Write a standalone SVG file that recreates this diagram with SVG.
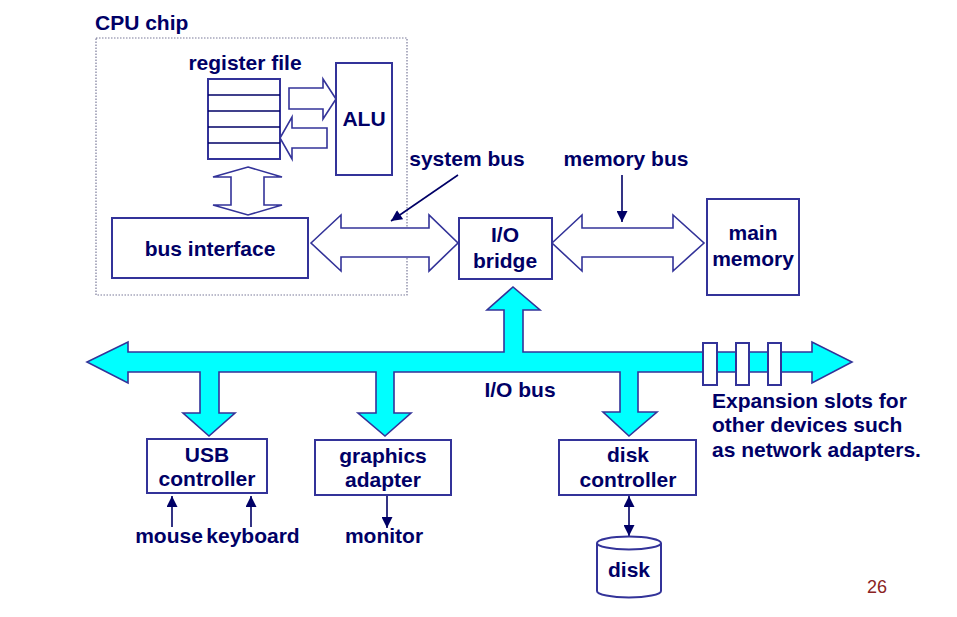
<svg xmlns="http://www.w3.org/2000/svg" width="957" height="617" viewBox="0 0 957 617">
<defs>
<style>
.t{font-family:"Liberation Sans",Arial,sans-serif;font-weight:bold;font-size:21px;fill:#000066;text-anchor:middle}
.ts{font-family:"Liberation Sans",Arial,sans-serif;font-weight:bold;font-size:21px;fill:#000066}
.box{fill:#ffffff;stroke:#333399;stroke-width:2}
.hol{fill:#ffffff;stroke:#333399;stroke-width:1.6}
.cy{fill:#00ffff;stroke:#333399;stroke-width:1.6}
.ln{stroke:#000066;stroke-width:1.6;fill:none}
</style>
<marker id="ah" viewBox="0 0 10 10" refX="10" refY="5" markerWidth="12" markerHeight="11" markerUnits="userSpaceOnUse" orient="auto-start-reverse">
<path d="M0,0 L10,5 L0,10 Z" fill="#000066"/>
</marker>
</defs>
<rect width="957" height="617" fill="#ffffff"/>

<g id="cpu-chip">
<rect x="96" y="38" width="311" height="257" fill="none" stroke="#7a7a99" stroke-width="1.2" stroke-dasharray="1.5,1.5"/>
<text class="ts" x="95" y="30">CPU chip</text>
</g>

<g id="connectors">
<polygon class="hol" points="289,88 323,88 323,79 336,99 323,119 323,109 289,109"/>
<polygon class="hol" points="327,128 292,128 292,117 280,138 292,159 292,148 327,148"/>
<polygon class="hol" points="248,167 282,177 264,177 264,205 282,205 248,215 213,205 231,205 231,177 213,177"/>
<polygon class="hol" points="311,243 341,215 341,228 429,228 429,215 458,243 429,271 429,257 341,257 341,271"/>
<polygon class="hol" points="552,243 582,215 582,228 673,228 673,215 704,243 673,271 673,257 582,257 582,271"/>
<polygon class="cy" points="128,352 504,352 504,310 487,310 513,287 540,310 523,310 523,352 812,352 812,342 852,362 812,383 812,372 638,372 638,412 657,412 629,436 603,412 620,412 620,372 394,372 394,413 411,413 385,436 358,413 376,413 376,372 219,372 219,413 235,413 209,436 183,413 200,413 200,372 128,372 128,383 87,362 128,342"/>
<line class="ln" x1="458" y1="175" x2="391" y2="221" marker-end="url(#ah)"/>
<line class="ln" x1="622" y1="175" x2="622" y2="222" marker-end="url(#ah)"/>
<line class="ln" x1="172" y1="527" x2="172" y2="496" marker-end="url(#ah)"/>
<line class="ln" x1="251" y1="527" x2="251" y2="496" marker-end="url(#ah)"/>
<line class="ln" x1="387" y1="496" x2="387" y2="528" marker-end="url(#ah)"/>
<line class="ln" x1="629" y1="496" x2="629" y2="536" marker-start="url(#ah)" marker-end="url(#ah)"/>
<text class="t" x="520" y="397">I/O bus</text>
<text class="t" x="467" y="166">system bus</text>
<text class="t" x="626" y="166">memory bus</text>
</g>

<g id="register-file">
<text class="t" x="245" y="70">register file</text>
<rect class="box" x="208" y="79" width="72" height="80"/>
<line class="ln" x1="208" y1="95" x2="280" y2="95"/>
<line class="ln" x1="208" y1="111" x2="280" y2="111"/>
<line class="ln" x1="208" y1="127" x2="280" y2="127"/>
<line class="ln" x1="208" y1="143" x2="280" y2="143"/>
</g>

<g id="alu">
<rect class="box" x="336" y="63" width="56" height="112"/>
<text class="t" x="364" y="126">ALU</text>
</g>

<g id="bus-interface">
<rect class="box" x="112" y="218" width="196" height="60"/>
<text class="t" x="210" y="256">bus interface</text>
</g>

<g id="io-bridge">
<rect class="box" x="459" y="218" width="93" height="61"/>
<text class="t" x="505" y="242">I/O</text>
<text class="t" x="505" y="268">bridge</text>
</g>

<g id="main-memory">
<rect class="box" x="707" y="199" width="92" height="96"/>
<text class="t" x="753" y="240">main</text>
<text class="t" x="753" y="266">memory</text>
</g>

<g id="usb-controller">
<rect class="box" x="147" y="439" width="120" height="54"/>
<text class="t" x="207" y="462">USB</text>
<text class="t" x="207" y="486">controller</text>
</g>

<g id="graphics-adapter">
<rect class="box" x="315" y="440" width="136" height="55"/>
<text class="t" x="383" y="463">graphics</text>
<text class="t" x="383" y="487">adapter</text>
</g>

<g id="disk-controller">
<rect class="box" x="559" y="440" width="137" height="55"/>
<text class="t" x="628" y="462">disk</text>
<text class="t" x="628" y="487">controller</text>
</g>

<g id="disk">
<path d="M597,543 L597,591 A32,6.5 0 0 0 661,591 L661,543" class="box"/>
<ellipse cx="629" cy="543" rx="32" ry="6.5" class="box"/>
<text class="t" x="629" y="577">disk</text>
</g>

<g id="mouse"><text class="t" x="169" y="543">mouse</text></g>
<g id="keyboard"><text class="t" x="253" y="543">keyboard</text></g>
<g id="monitor"><text class="t" x="384" y="543">monitor</text></g>

<g id="expansion-slots">
<rect class="box" x="703" y="343" width="14" height="42" stroke-width="1.6"/>
<rect class="box" x="736" y="343" width="13" height="42" stroke-width="1.6"/>
<rect class="box" x="768" y="343" width="13" height="42" stroke-width="1.6"/>
<text class="ts" x="712" y="408">Expansion slots for</text>
<text class="ts" x="712" y="432">other devices such</text>
<text class="ts" x="712" y="457">as network adapters.</text>
</g>

<text x="877" y="593" font-family="Liberation Sans,Arial,sans-serif" font-size="18" fill="#8b2323" text-anchor="middle">26</text>
</svg>
